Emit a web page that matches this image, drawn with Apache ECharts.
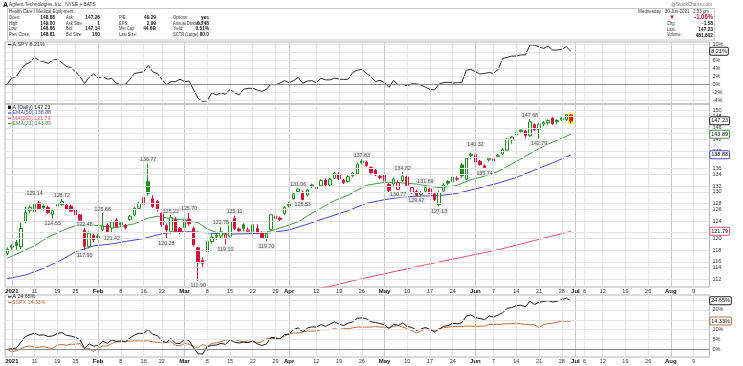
<!DOCTYPE html>
<html><head><meta charset="utf-8">
<script src="https://cdn.jsdelivr.net/npm/echarts@6/dist/echarts.min.js"></script>
<style>html,body{margin:0;padding:0;background:#fff}#c{width:743px;height:366px}</style>
</head><body><div id="c"></div>
<script>
// ---------------- data ----------------
const firstDay = '2020-12-31';
const holidays = ['2021-01-18','2021-02-15','2021-04-02','2021-05-31','2021-07-05'];
const nDays = 155;
const xTicks = [['2021-01-04','2021'],['2021-01-11','11'],['2021-01-19','19'],['2021-01-25','25'],['2021-02-01','Feb'],['2021-02-08','8'],['2021-02-16','16'],['2021-02-22','22'],['2021-03-01','Mar'],['2021-03-08','8'],['2021-03-15','15'],['2021-03-22','22'],['2021-03-29','29'],['2021-04-01','Apr'],['2021-04-12','12'],['2021-04-19','19'],['2021-04-26','26'],['2021-05-03','May'],['2021-05-10','10'],['2021-05-17','17'],['2021-05-24','24'],['2021-06-01','Jun'],['2021-06-07','7'],['2021-06-14','14'],['2021-06-21','21'],['2021-06-28','28'],['2021-07-01','Jul'],['2021-07-06','6'],['2021-07-12','12'],['2021-07-19','19'],['2021-07-26','26'],['2021-08-02','Aug'],['2021-08-09','9']];
const priceTicks = [112,114,116,118,120,122,124,126,128,130,132,134,136,138,140,142,144,146,148,150];
const rsTicks = [-4,-2,0,2,4,6,8,10];
const perfTicks = [0,5,10,15,20,25];

const opens = [117.3,118.8,119.5,118.6,123.8,126.2,126.0,127.9,127.2,126.9,
125.4,127.2,127.5,127.4,127.2,126.5,125.3,122.0,118.7,121.0,
120.8,122.2,123.1,122.5,124.2,123.6,123.1,124.3,125.3,126.7,
129.1,132.7,128.8,128.2,125.6,123.0,121.7,124.3,122.4,122.6,
124.4,122.4,118.4,115.9,117.6,119.7,121.0,120.8,120.3,120.8,
124.5,122.3,123.2,121.8,121.7,122.4,121.6,120.4,122.2,124.5,
124.6,125.6,127.8,128.8,130.4,130.3,129.6,131.9,131.1,131.7,
133.0,131.9,133.4,134.4,133.0,132.7,134.0,134.4,137.4,137.1,
135.9,135.3,133.9,134.2,132.0,132.1,130.9,132.9,133.7,130.2,
130.4,129.7,130.5,131.0,129.9,127.5,130.5,132.7,132.6,133.2,
136.5,133.2,139.0,138.9,137.3,136.3,137.7,137.9,138.5,139.1,
140.0,142.6,143.7,144.9,144.7,143.5,146.3,145.1,146.4,146.7,
147.9,147.3,147.5,147.5,148.68];
const highs = [118.5,119.1,120.0,123.6,127.1,127.3,129.14,128.3,127.6,127.3,
126.6,127.9,128.72,127.8,127.5,126.8,125.5,122.48,121.8,121.3,
121.2,125.66,123.5,124.1,124.6,123.9,123.4,125.3,127.0,128.1,
129.5,136.77,129.6,128.5,125.9,123.4,125.22,124.8,122.7,124.6,
125.70,122.8,118.6,116.5,120.1,121.3,121.3,122.75,121.6,124.0,
125.11,122.6,123.5,122.6,123.6,123.3,121.8,121.6,125.5,125.5,
124.9,127.2,128.1,130.2,131.06,130.6,131.0,132.2,131.8,133.2,
133.3,133.5,134.9,134.8,133.3,134.1,134.9,137.0,137.83,137.5,
136.2,135.6,134.3,134.5,132.3,133.6,133.0,134.82,134.0,131.6,
130.8,130.5,131.69,131.3,130.2,130.5,132.3,133.0,134.0,133.9,
137.0,138.4,139.4,140.32,137.7,136.6,138.4,138.2,139.1,140.4,
142.9,143.5,144.6,145.1,145.0,147.68,146.6,146.7,147.2,147.6,
148.2,147.6,148.2,148.95,149.00];
const lows = [116.9,118.0,118.0,118.1,123.5,125.6,125.7,126.3,126.2,125.5,
124.55,126.9,127.2,126.3,125.9,124.9,123.5,117.90,118.3,119.6,
120.1,121.9,121.5,121.42,122.5,122.8,122.2,124.0,125.0,126.4,
127.4,129.5,126.8,126.0,122.8,120.28,121.3,121.5,121.2,122.3,
123.0,118.7,111.90,114.5,116.5,119.3,120.0,120.4,119.10,120.5,
122.1,121.5,121.8,121.5,121.4,121.2,120.2,119.70,121.9,124.0,
124.0,125.3,126.9,128.6,130.0,128.53,129.3,131.2,130.9,131.5,
131.6,131.6,133.2,133.0,132.1,132.4,133.7,134.2,136.6,136.1,
134.5,133.9,133.2,132.5,130.3,131.5,130.77,132.6,131.5,129.9,
129.47,129.5,130.2,129.8,128.3,127.13,130.3,131.8,132.2,132.8,
133.5,133.0,138.0,136.9,136.3,135.74,137.3,137.2,138.2,138.8,
139.8,141.6,143.4,144.3,142.9,143.3,144.7,142.79,145.9,146.3,
146.2,146.4,147.2,147.2,146.66];
const closes = [118.115,118.5,118.9,122.4,125.8,126.9,127.8,126.6,126.8,125.8,
126.2,127.6,128.2,126.5,126.1,125.3,123.8,118.7,121.4,120.0,
120.5,122.9,121.7,123.8,122.8,123.2,122.6,125.0,126.7,127.8,
127.6,130.0,127.1,126.4,123.2,122.1,124.7,121.8,121.6,124.2,
123.4,119.0,115.4,115.3,119.7,120.5,120.7,121.7,121.1,123.8,
122.4,121.9,122.4,122.1,123.2,121.4,120.4,121.3,125.3,125.0,
124.3,126.9,127.3,129.9,131.0,128.6,130.8,131.6,131.4,132.9,
131.9,133.2,134.6,133.3,132.4,133.8,134.6,136.7,137.0,136.4,
134.7,134.2,133.6,132.8,130.6,133.2,132.4,133.9,131.8,131.3,
129.6,130.2,131.3,130.0,128.6,130.2,131.9,132.3,133.7,133.4,
134.0,138.1,138.7,137.2,136.6,135.9,138.1,137.5,138.8,140.1,
142.7,143.2,144.3,144.6,143.6,147.0,145.0,146.4,146.8,147.3,
146.5,147.0,147.9,148.81,147.23];

// moving averages: [trading-day index, value]
const ema21Pts = [[0,116.3],[6,118.8],[9,120.6],[13,122.3],[16,123.3],[20,123.0],[24,122.6],[28,123.4],[31,124.6],[33,125.0],[36,124.5],[39,124.2],[42,123.6],[44,122.3],[46,121.6],[49,121.5],[53,121.5],[57,121.6],[60,122.5],[64,123.8],[68,126.2],[72,128.4],[75,129.6],[79,131.8],[83,132.5],[86,132.4],[90,132.1],[94,131.4],[96,131.3],[99,131.8],[102,133.1],[105,133.9],[108,135.0],[112,137.3],[116,139.8],[119,141.5],[122,142.9],[124,143.89]];
const ema50Pts = [[0,112.3],[4,113.0],[8,114.3],[12,116.0],[15,117.6],[19,118.8],[23,119.2],[26,119.7],[30,120.3],[34,121.3],[37,121.7],[41,121.7],[45,121.4],[49,121.2],[53,121.3],[58,121.5],[62,122.1],[66,123.3],[70,124.6],[75,126.2],[79,127.8],[83,128.6],[87,129.2],[91,129.4],[95,129.5],[99,130.0],[103,131.0],[108,132.3],[112,133.6],[116,135.3],[120,137.0],[124,138.88]];
const ma200Pts = [[62,109.5],[66,110.0],[71,110.8],[77,112.1],[92,115.0],[108,118.0],[116,119.9],[124,121.79]];

// A:SPY relative strength (% change)
const rsSpy = [0,1.65,1.9,3.7,5.0,5.4,6.7,5.9,5.6,5.2,6.0,6.2,5.4,4.4,4.2,3.1,1.9,0.2,1.7,2.55,1.5,2.0,1.25,1.5,0.25,-0.15,0,1.25,2.7,2.9,3.1,4.7,3.1,2.7,1.25,-0.15,0.65,0.65,1.25,0.65,0.8,-1.4,-3.5,-4.3,-4.1,-2.1,-2.65,-2.1,-2.5,-1.25,-2.1,-2.65,-1.25,-1.0,-1.0,-1.4,-1.8,-1.25,0,-0.15,0.3,0.9,0.4,0.9,1.7,0.25,0.8,0.9,0.4,1.5,1.1,1.1,1.5,1.3,1.2,1.25,2.9,3.5,3.7,2.7,1.9,0.65,1.0,0.4,-0.75,1.0,-0.15,0,-0.4,0.1,0.1,-0.15,-0.75,-1.25,-1.4,0.1,0.4,0.5,0.3,0.4,0.4,3.5,3.7,3.1,2.55,2.7,2.9,2.7,3.7,6.4,6.7,7.0,7.0,7.3,7.3,9.75,9.75,9.3,8.9,9.5,8.5,8.5,8.7,9.3,8.21];
// $SPX % change
const spxPct = [0,-1.2,-0.8,0.3,1.3,1.7,1.0,1.0,1.3,0.8,0.5,2.1,2.5,2.1,2.6,2.6,3.0,0.0,0.5,-1.2,0.5,1.7,1.7,3.0,3.8,3.8,4.0,4.2,4.3,4.3,4.3,4.3,3.8,3.5,3.3,3.5,3.8,2.1,1.7,3.0,2.6,1.3,1.0,2.5,1.3,3.0,3.3,3.8,4.65,5.0,5.0,4.3,3.8,4.3,3.8,3.3,3.8,5.5,5.5,5.5,5.5,6.65,8.0,8.3,8.3,8.8,9.3,9.3,9.3,10.0,10.0,10.0,10.5,10.0,10.5,10.5,10.9,11.3,11.3,11.3,11.3,11.6,11.3,11.3,11.0,11.6,12.1,11.3,10.5,9.65,8.3,9.3,10.5,9.65,9.65,10.5,11.0,11.3,11.6,11.6,11.6,11.8,11.8,11.6,11.8,11.8,12.65,12.65,12.5,12.8,13.0,13.0,13.3,13.0,12.65,12.5,12.5,11.0,12.65,13.0,13.3,13.8,14.3,14.3,14.33];

// swing high / low annotations: [trading-day index, 'H' or 'L']
const noteDays = [[6,'H'],[10,'L'],[12,'H'],[17,'H'],[17,'L'],[21,'H'],[23,'L'],[31,'H'],[35,'L'],[36,'H'],[40,'H'],[42,'L'],[47,'H'],[48,'L'],[50,'H'],[57,'L'],[64,'H'],[65,'L'],[78,'H'],[86,'L'],[87,'H'],[90,'L'],[92,'H'],[95,'L'],[103,'H'],[105,'L'],[115,'H'],[117,'L']];

const quoteInfo = [
  ['Open:','148.68','Ask:','147.26','P/E:','49.29','Options:','yes'],
  ['High:','149.00','Ask Size:','1','EPS:','2.99','Annual Dividend:','0.748'],
  ['Low:','146.66','Bid:','147.14','Mkt Cap:','44.6B','Yield:','0.51%'],
  ['Prev Close:','148.81','Bid Size:','100','Last Size:','','SCTR (Large):','80.0']
];
const quoteRight = [['Chg:','-1.58'],['Last:','147.23'],['Volume:','481,802']];

// ---------------- build ----------------
function buildDates(){
  const out=[firstDay];
  const d=new Date(Date.UTC(2021,0,4));
  while(out.length<nDays){
    const wd=d.getUTCDay(); const s=d.toISOString().slice(0,10);
    if(wd!==0&&wd!==6&&holidays.indexOf(s)<0) out.push(s);
    d.setUTCDate(d.getUTCDate()+1);
  }
  return out;
}
const dates = buildDates();
const tickMap = new Map(xTicks);
const last = closes.length-1;
const L = Math.log;
const FF = '"Liberation Sans", Arial, Helvetica, sans-serif';
const GREEN='#1e8c1e', RED='#d2143c';
const C_E50='#4646c8', C_E21='#3f9a3f', C_M200='#e4506c', C_SPX='#c0703c';

const aPct = closes.map(c=>(c/closes[0]-1)*100);

const candleData = opens.map((o,i)=>{
  const c=closes[i], prev=i>0?closes[i-1]:c;
  const col = c>=prev?GREEN:RED;
  const fill = c>o?'#ffffff':col;
  return {value:[L(o),L(c),L(lows[i]),L(highs[i])], itemStyle:{color:fill,color0:fill,borderColor:col,borderColor0:col,borderWidth:1}};
});
const hiliteData = dates.map((d,i)=> i===last ? [L(lows[last])-0.001,L(highs[last])+0.001,L(lows[last])-0.001,L(highs[last])+0.001] : '-');

function gridMarks(hTicks,toY,fmt,zeroVal){
  const v = xTicks.map(([d,l])=>({xAxis:d,lineStyle:{color:l.length>2?'#c8c8c8':'#e4e4e4'},label:{show:false}}));
  const h = hTicks.map(t=>({yAxis:toY(t),lineStyle:{color:t===zeroVal?'#8a8a8a':'#e4e4e4'},label:{show:true,formatter:fmt(t)}}));
  return {silent:true,symbol:['none','none'],animation:false,
    label:{show:true,position:'end',distance:3,fontSize:5.5,color:'#333',fontFamily:FF},
    lineStyle:{type:'solid',width:1},data:v.concat(h)};
}
function tag(yv,text,border){
  return {coord:[dates[nDays-1],yv],symbol:'rect',symbolSize:[1,1],itemStyle:{color:'rgba(0,0,0,0)'},
    label:{show:true,position:'right',distance:2.5,formatter:text,fontSize:5.5,fontFamily:FF,color:'#111',
      backgroundColor:'#fff',borderColor:border,borderWidth:1,borderRadius:1,padding:[1,1,0,1]}};
}
const nullLine = (extra)=>Object.assign({type:'line',symbol:'none',silent:true,animation:false,lineStyle:{opacity:0,width:0}},extra);

const noteData = noteDays.map(([i,k])=>{
  const v = k==='H'?highs[i]:lows[i];
  return {value:[i,L(v)],label:{position:k==='H'?'top':'bottom',formatter:v.toFixed(2)}};
});

function txt(x,y,s,o){o=o||{};return {type:'text',x:x,y:y,scaleX:o.k||1,silent:true,z:10,style:{text:s,fill:o.c||'#222',font:(o.b?'bold ':'')+(o.s||6)+'px '+FF,align:o.a||'left',verticalAlign:'middle'}};}
function seg(x,y,c){return {type:'line',silent:true,z:10,shape:{x1:x,y1:y,x2:x+3.5,y2:y},style:{stroke:c,lineWidth:1.2}};}

const KL=0.74, KV=0.8;
const graphics = [];
graphics.push(txt(3,4.7,'A',{b:true,s:7,c:'#000'}));
graphics.push(txt(9,4.9,'Agilent Technologies, Inc.  NYSE + BATS',{s:5.5,c:'#333',k:0.86}));
graphics.push(txt(712,4.7,'@StockCharts.com',{s:5.5,c:'#777',a:'right',k:0.86}));
graphics.push({type:'rect',silent:true,shape:{x:7.5,y:8.5,width:707,height:31.5},style:{fill:'none',stroke:'#c8c8c8',lineWidth:1}});
graphics.push(txt(9,11.2,'Health Care / Medical Equipment',{s:5.5,c:'#333',k:KV}));
const colL=[9,66,119,173], colR=[55,100,156,209], rowY=[17.3,23,28.7,34.3];
quoteInfo.forEach((row,r)=>{
  for(let k=0;k<4;k++){
    graphics.push(txt(colL[k],rowY[r],row[2*k],{s:5.5,c:'#333',k:KL}));
    graphics.push(txt(colR[k],rowY[r],row[2*k+1],{s:6,b:true,c:'#111',a:'right',k:KV}));
  }
});
graphics.push(txt(709,11.3,'Wednesday   30-Jun-2021   2:53 pm',{s:5.5,c:'#333',a:'right',k:KV}));
graphics.push(txt(672,17.3,'\u25BC',{s:6,c:'#b0103a',a:'center'}));
graphics.push(txt(713,17.5,'-1.06%',{s:7,b:true,c:'#b0103a',a:'right',k:0.85}));
quoteRight.forEach((p,r)=>{
  graphics.push(txt(667,23.5+r*5.7,p[0],{s:5.5,c:'#333',k:KL}));
  graphics.push(txt(713,23.5+r*5.7,p[1],{s:6,b:true,c:'#111',a:'right',k:KV}));
});
// panel legends
graphics.push(seg(8,44.6,'#222')); graphics.push(txt(12.5,44.6,'A:SPY '+rsSpy[last].toFixed(2)+'%',{s:5.3,c:'#333'}));
graphics.push({type:'rect',silent:true,z:10,shape:{x:8,y:105.6,width:3,height:3.4},style:{fill:'#111'}});
graphics.push(txt(12.5,107.3,'A (Daily) '+closes[last].toFixed(2),{s:5.3,c:'#222'}));
graphics.push(seg(8,113,C_E50)); graphics.push(txt(12.5,113,'EMA(50) '+ema50Pts[ema50Pts.length-1][1].toFixed(2),{s:5.3,c:C_E50}));
graphics.push(seg(8,118.3,C_M200)); graphics.push(txt(12.5,118.3,'MA(200) '+ma200Pts[ma200Pts.length-1][1].toFixed(2),{s:5.3,c:C_M200}));
graphics.push(seg(8,123.5,C_E21)); graphics.push(txt(12.5,123.5,'EMA(21) '+ema21Pts[ema21Pts.length-1][1].toFixed(2),{s:5.3,c:C_E21}));
graphics.push(seg(8,296.8,'#222')); graphics.push(txt(12.5,296.8,'A '+aPct[last].toFixed(2)+'%',{s:5.3,c:'#222'}));
graphics.push(seg(8,302.3,C_SPX)); graphics.push(txt(12.5,302.3,'$SPX '+spxPct[last].toFixed(2)+'%',{s:5.3,c:C_SPX}));

const gridBase = {left:5,width:704.5,show:true,borderColor:'#b4b4b4',borderWidth:1,containLabel:false,outerBoundsMode:'none'};
const xAxisOf = (g,showLabel)=>({type:'category',gridIndex:g,data:dates,boundaryGap:true,
  axisLine:{show:false},axisTick:{show:false},splitLine:{show:false},
  axisLabel: showLabel?{show:true,interval:(i,v)=>tickMap.has(v),margin:1.5,fontSize:5.5,color:'#333',fontFamily:FF,
    formatter:(v)=>{const l=tickMap.get(v)||''; return l.length>2?'{m|'+l+'}':l;},
    rich:{m:{fontWeight:'bold',fontSize:6,color:'#111',fontFamily:FF}}}:{show:false}});
const yAxisOf = (g,min,max)=>({type:'value',gridIndex:g,position:'right',min:min,max:max,
  axisLabel:{show:false},axisLine:{show:false},axisTick:{show:false},splitLine:{show:false}});

const option = {
  animation:false,
  backgroundColor:'#fff',
  textStyle:{fontFamily:FF},
  grid:[Object.assign({top:42,height:62},gridBase),Object.assign({top:104,height:183},gridBase),Object.assign({top:295,height:62},gridBase)],
  xAxis:[xAxisOf(0,false),xAxisOf(1,true),xAxisOf(2,true)],
  yAxis:[yAxisOf(0,-4.9,10.5),yAxisOf(1,L(110.7),L(151.55)),yAxisOf(2,-3.9,27.6)],
  graphic:graphics,
  series:[
    nullLine({xAxisIndex:0,yAxisIndex:0,z:0,data:rsSpy,markLine:gridMarks(rsTicks,t=>t,t=>t+'%',0)}),
    {type:'line',xAxisIndex:0,yAxisIndex:0,z:3,data:rsSpy,symbol:'none',lineStyle:{color:'#2a2a2a',width:1},
      markPoint:{z:20,data:[tag(rsSpy[last],rsSpy[last].toFixed(2)+'%','#222')]}},
    nullLine({xAxisIndex:1,yAxisIndex:1,z:0,data:closes.map(L),markLine:gridMarks(priceTicks,t=>L(t),t=>String(t),null)}),
    {type:'candlestick',xAxisIndex:1,yAxisIndex:1,z:1,barWidth:6,data:hiliteData,
      itemStyle:{color:'#ffee33',color0:'#ffee33',borderColor:'#ffee33',borderColor0:'#ffee33'}},
    {type:'line',xAxisIndex:1,yAxisIndex:1,z:2,data:ma200Pts.map(p=>[p[0],L(p[1])]),symbol:'none',lineStyle:{color:C_M200,width:1}},
    {type:'line',xAxisIndex:1,yAxisIndex:1,z:2,data:ema50Pts.map(p=>[p[0],L(p[1])]),symbol:'none',lineStyle:{color:C_E50,width:1}},
    {type:'line',xAxisIndex:1,yAxisIndex:1,z:2,data:ema21Pts.map(p=>[p[0],L(p[1])]),symbol:'none',lineStyle:{color:C_E21,width:1}},
    {type:'candlestick',xAxisIndex:1,yAxisIndex:1,z:4,barWidth:3,data:candleData},
    {type:'scatter',xAxisIndex:1,yAxisIndex:1,z:6,symbolSize:0,data:noteData,silent:true,
      label:{show:true,distance:1.5,fontSize:5.3,fontFamily:FF,color:'#333',backgroundColor:'#e6e6e6',padding:[1,1.5,0,1.5],borderRadius:1}},
    nullLine({xAxisIndex:1,yAxisIndex:1,z:20,data:closes.map(L),markPoint:{z:20,data:[
      tag(L(closes[last]),closes[last].toFixed(2),'#222'),
      tag(L(ema21Pts[ema21Pts.length-1][1]),ema21Pts[ema21Pts.length-1][1].toFixed(2),C_E21),
      tag(L(ema50Pts[ema50Pts.length-1][1]),ema50Pts[ema50Pts.length-1][1].toFixed(2),C_E50),
      tag(L(ma200Pts[ma200Pts.length-1][1]),ma200Pts[ma200Pts.length-1][1].toFixed(2),C_M200)]}}),
    nullLine({xAxisIndex:2,yAxisIndex:2,z:0,data:spxPct,markLine:gridMarks(perfTicks,t=>t,t=>t+'%',0)}),
    {type:'line',xAxisIndex:2,yAxisIndex:2,z:2,data:spxPct,symbol:'none',lineStyle:{color:C_SPX,width:1}},
    {type:'line',xAxisIndex:2,yAxisIndex:2,z:3,data:aPct,symbol:'none',lineStyle:{color:'#1a1a1a',width:1},
      markPoint:{z:20,data:[tag(aPct[last],aPct[last].toFixed(2)+'%','#222'),tag(spxPct[last],spxPct[last].toFixed(2)+'%',C_SPX)]}}
  ]
};
const chart = echarts.init(document.getElementById('c'),null,{renderer:'canvas'});
chart.setOption(option);
</script>
</body></html>
